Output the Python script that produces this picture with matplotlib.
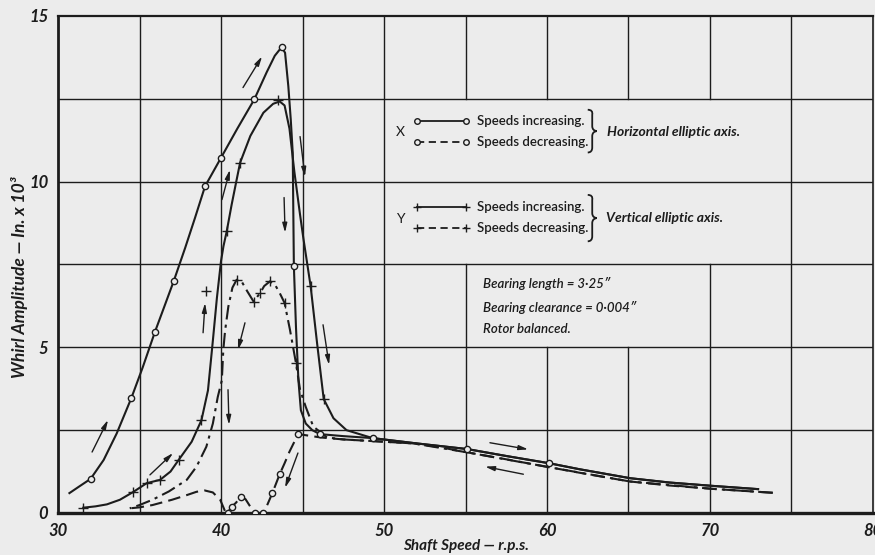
import matplotlib
matplotlib.use("Agg")
import matplotlib.pyplot as plt
from matplotlib.path import Path
from matplotlib.patches import PathPatch

plt.rcParams["font.family"] = ["Lato", "DejaVu Sans"]

ink = "#1c1c1c"
paper = "#ececec"

# X - horizontal elliptic axis, speeds increasing
xi_speed = [30.7, 31.3, 32.0, 32.8, 33.6, 34.5, 35.2, 35.95, 36.5, 37.1, 37.8, 38.4, 39.02, 40.0,
            41.0, 42.04, 42.8, 43.3, 43.72, 43.93, 44.13, 44.28, 44.4, 44.47, 44.6, 44.75, 44.9,
            45.2, 45.6, 46.07, 47.5, 49.3, 52.0, 55.1, 57.5, 60.15, 62.0, 65.1, 67.5, 70.1, 72.95]
xi_amp = [0.6, 0.8, 1.03, 1.6, 2.4, 3.47, 4.4, 5.47, 6.2, 7.0, 8.0, 8.9, 9.86, 10.72,
          11.6, 12.48, 13.3, 13.8, 14.06, 13.89, 12.88, 11.87, 10.87, 7.46, 5.6, 4.0, 3.1,
          2.7, 2.5, 2.38, 2.32, 2.26, 2.1, 1.93, 1.72, 1.5, 1.32, 1.05, 0.92, 0.82, 0.72]
xi_pts_speed = [32.0, 34.5, 35.95, 37.1, 39.02, 40.0, 42.04, 43.72, 44.47, 46.07, 49.3, 55.1, 60.15]
xi_pts_amp = [1.03, 3.47, 5.47, 7.0, 9.86, 10.72, 12.48, 14.06, 7.46, 2.38, 2.26, 1.93, 1.5]

# X - speeds decreasing
xd_speed = [73.85, 70.1, 67.5, 65.1, 62.5, 60.15, 57.5, 55.1, 53.5, 51.8, 49.3, 47.5, 46.1, 45.3,
            44.75, 44.45, 44.2, 43.9, 43.6, 43.15, 42.8, 42.55, 42.1, 41.85, 41.5, 41.2, 40.9,
            40.65, 40.4, 40.25, 39.95, 39.5, 39.0, 38.5, 37.9, 37.0, 35.8, 35.0, 34.4]
xd_amp = [0.61, 0.73, 0.83, 0.95, 1.17, 1.38, 1.62, 1.83, 1.98, 2.1, 2.17, 2.22, 2.28, 2.34,
          2.38, 2.1, 1.85, 1.5, 1.17, 0.6, 0.2, 0.0, 0.0, 0.15, 0.42, 0.47, 0.3,
          0.19, 0.0, 0.05, 0.4, 0.62, 0.68, 0.64, 0.54, 0.4, 0.24, 0.17, 0.14]
xd_pts_speed = [44.75, 43.6, 43.15, 42.55, 42.1, 41.2, 40.65, 40.4]
xd_pts_amp = [2.38, 1.17, 0.6, 0.0, 0.0, 0.47, 0.19, 0.0]

# Y - vertical elliptic axis, speeds increasing
yi_speed = [31.55, 32.3, 33.0, 33.8, 34.6, 35.44, 36.26, 36.9, 37.4, 38.2, 38.8, 39.2, 39.5, 39.75,
            40.0, 40.15, 40.35, 40.65, 40.96, 41.17, 41.8, 42.6, 43.2, 43.6, 43.9, 44.2, 44.5,
            44.85, 45.05, 45.5, 45.9, 46.3, 46.9, 47.7, 49.3, 52.0, 55.1, 57.5, 60.15, 62.0,
            65.1, 67.5, 70.1, 72.95]
yi_amp = [0.16, 0.2, 0.26, 0.4, 0.63, 0.9, 1.0, 1.25, 1.6, 2.15, 2.8, 3.7, 5.2, 6.5,
          7.6, 8.05, 8.5, 9.3, 10.06, 10.57, 11.38, 12.08, 12.35, 12.42, 12.3, 11.6, 10.3,
          9.0, 8.3, 6.84, 5.1, 3.44, 2.86, 2.5, 2.26, 2.1, 1.93, 1.72, 1.5, 1.32,
          1.05, 0.92, 0.82, 0.72]
yi_pts_speed = [31.55, 34.6, 35.44, 36.26, 37.4, 38.8, 40.35, 41.17, 43.5, 45.5, 46.3]
yi_pts_amp = [0.16, 0.63, 0.9, 1.0, 1.6, 2.8, 8.5, 10.57, 12.45, 6.84, 3.44]
lone_speed = [39.1]
lone_amp = [6.69]

# Y - speeds decreasing
yd_speed = [73.85, 70.1, 65.1, 60.15, 55.1, 51.8, 49.3, 47.5, 46.5, 45.66, 45.2, 44.85, 44.6,
            44.23, 43.9, 43.6, 43.3, 43.0, 42.65, 42.4, 42.0, 41.6, 41.25, 40.96, 40.7, 40.45,
            40.25, 40.14, 40.05, 39.8, 39.5, 39.1, 38.5, 37.9, 36.8, 35.8, 35.0, 34.4]
yd_amp = [0.61, 0.73, 0.95, 1.38, 1.83, 2.1, 2.17, 2.22, 2.28, 2.61, 3.2, 3.72, 4.52,
          5.53, 6.34, 6.64, 6.9, 6.99, 6.85, 6.64, 6.38, 6.7, 7.0, 7.04, 6.8, 6.23,
          5.5, 4.92, 4.0, 3.5, 2.7, 2.0, 1.4, 1.0, 0.65, 0.4, 0.24, 0.14]
yd_pts_speed = [44.6, 43.9, 43.0, 42.4, 42.0, 40.96]
yd_pts_amp = [4.52, 6.34, 6.99, 6.64, 6.38, 7.04]

# direction arrows (tail speed, tail amp, head speed, head amp)
arrows = [
    (32.09, 1.84, 33.07, 2.81), (35.64, 1.15, 37.06, 1.81), (38.9, 5.44, 39.02, 6.34),
    (41.47, 5.74, 41.04, 4.92), (40.43, 3.72, 40.49, 2.66), (43.87, 9.52, 43.93, 8.46),
    (44.85, 11.36, 45.15, 10.15), (46.26, 5.68, 46.63, 4.47), (44.72, 1.81, 43.93, 0.76),
    (41.35, 12.84, 42.52, 13.78), (40.06, 9.46, 40.55, 10.36), (56.5, 2.12, 58.85, 1.92),
    (58.55, 1.17, 56.2, 1.40),
]

fig = plt.figure(figsize=(8.75, 5.55), dpi=100, facecolor=paper)
ax = fig.add_axes([0.0663, 0.0757, 0.9314, 0.8955], facecolor=paper)
ax.set_xlim(30, 80)
ax.set_ylim(0, 15)

# grid, broken where the notes sit
vgrid = [(35, 0, 15), (40, 0, 15), (45, 0, 15), (50, 0, 15), (55, 0, 7.5), (55, 12.5, 15),
         (60, 0, 5), (60, 12.5, 15), (65, 0, 5), (65, 12.5, 15), (70, 0, 7.5), (70, 12.5, 15),
         (75, 0, 15)]
for gx, g0, g1 in vgrid:
    ax.plot([gx, gx], [g0, g1], color=ink, lw=1.0, zorder=1)
for gy in [2.5, 5, 7.5, 10, 12.5]:
    ax.plot([30, 80], [gy, gy], color=ink, lw=1.0, zorder=1)

lw = 1.5
ax.plot(xi_speed, xi_amp, color=ink, lw=lw, zorder=3)
ax.plot(yi_speed, yi_amp, color=ink, lw=lw, zorder=3)
ax.plot(xd_speed, xd_amp, color=ink, lw=lw, ls=(0, (6, 3)), zorder=3)
ax.plot(yd_speed, yd_amp, color=ink, lw=lw, ls=(0, (7, 2.5, 1.5, 2.5)), zorder=3)

circ = dict(ls="none", marker="o", ms=4.5, mfc=paper, mec=ink, mew=1.0, zorder=4)
plus = dict(ls="none", marker="+", ms=7, mec=ink, mew=1.0, zorder=4)
ax.plot(xi_pts_speed, xi_pts_amp, **circ)
ax.plot(xd_pts_speed, xd_pts_amp, **circ)
ax.plot(yi_pts_speed, yi_pts_amp, **plus)
ax.plot(yd_pts_speed, yd_pts_amp, **plus)
ax.plot(lone_speed, lone_amp, **plus)

for x0, y0, x1, y1 in arrows:
    ax.annotate("", xy=(x1, y1), xytext=(x0, y0),
                arrowprops=dict(arrowstyle="-|>,head_length=0.55,head_width=0.14",
                                color=ink, lw=1.0, shrinkA=0, shrinkB=0), zorder=5)

# notes
fs = 9.5
ax.text(50.74, 11.5, "X", fontsize=10, color=ink, va="center", ha="left")
ax.text(50.74, 8.88, "Y", fontsize=10, color=ink, va="center", ha="left")
ax.plot([52.0, 55.0], [11.82, 11.82], color=ink, lw=1.3, marker="o", ms=4, mfc=paper, mec=ink)
ax.plot([52.0, 55.0], [11.19, 11.19], color=ink, lw=1.3, ls=(0, (4, 2.5)), marker="o", ms=4,
        mfc=paper, mec=ink)
ax.plot([52.0, 55.0], [9.23, 9.23], color=ink, lw=1.3, marker="+", ms=6, mew=1.0)
ax.plot([52.0, 55.0], [8.60, 8.60], color=ink, lw=1.3, ls=(0, (4, 2.5)), marker="+", ms=6, mew=1.0)
for ty, txt in [(11.82, "Speeds increasing."), (11.19, "Speeds decreasing."),
                (9.23, "Speeds increasing."), (8.60, "Speeds decreasing.")]:
    ax.text(55.7, ty, txt, fontsize=fs, color=ink, va="center", ha="left", fontweight="semibold")
ax.text(63.66, 11.5, "Horizontal elliptic axis.", fontsize=10, color=ink, va="center",
        ha="left", fontweight="bold", fontstyle="italic")
ax.text(63.6, 8.9, "Vertical elliptic axis.", fontsize=10, color=ink, va="center",
        ha="left", fontweight="bold", fontstyle="italic")


def brace(xl, y0, y1, w):
    ym = (y0 + y1) / 2
    verts = [(xl, y1), (xl + w * 0.6, y1), (xl + w * 0.5, y1 - 0.15), (xl + w * 0.5, ym + 0.15),
             (xl + w * 0.5, ym + 0.02), (xl + w, ym), (xl + w, ym),
             (xl + w, ym), (xl + w * 0.5, ym - 0.02), (xl + w * 0.5, ym - 0.15),
             (xl + w * 0.5, y0 + 0.15), (xl + w * 0.5, y0), (xl, y0)]
    codes = [Path.MOVETO, Path.CURVE3, Path.CURVE3, Path.LINETO, Path.CURVE3, Path.CURVE3,
             Path.LINETO, Path.LINETO, Path.CURVE3, Path.CURVE3, Path.LINETO, Path.CURVE3,
             Path.CURVE3]
    ax.add_patch(PathPatch(Path(verts, codes), fill=False, ec=ink, lw=1.3, zorder=4))


brace(62.5, 10.88, 12.17, 0.55)
brace(62.5, 8.2, 9.6, 0.55)

for ty, txt in [(6.94, "Bearing length = 3·25\u2033"), (6.21, "Bearing clearance = 0·004\u2033"),
                (5.55, "Rotor balanced.")]:
    ax.text(56.05, ty, txt, fontsize=fs, color=ink, va="center", ha="left",
            fontweight="semibold", fontstyle="italic")

ax.set_xticks([30, 40, 50, 60, 70, 80])
ax.set_yticks([0, 5, 10, 15])
ax.tick_params(length=0, pad=7, labelsize=12, colors=ink)
for lab in ax.get_xticklabels() + ax.get_yticklabels():
    lab.set_fontweight("bold")
    lab.set_fontstyle("italic")
ax.set_xlabel("Shaft Speed — r.p.s.", fontsize=11, fontweight="bold", fontstyle="italic",
              color=ink, va="center")
ax.xaxis.set_label_coords(0.5, -0.066)
ax.set_ylabel("Whirl Amplitude — In. x 10³", fontsize=12.5, fontweight="bold",
              fontstyle="italic", color=ink, va="center")
ax.yaxis.set_label_coords(-0.047, 0.475)
for side, w in [("left", 2.0), ("bottom", 2.4), ("top", 1.6), ("right", 1.2)]:
    ax.spines[side].set_linewidth(w)
    ax.spines[side].set_color(ink)

fig.savefig("out.png", dpi=100, facecolor=paper)
